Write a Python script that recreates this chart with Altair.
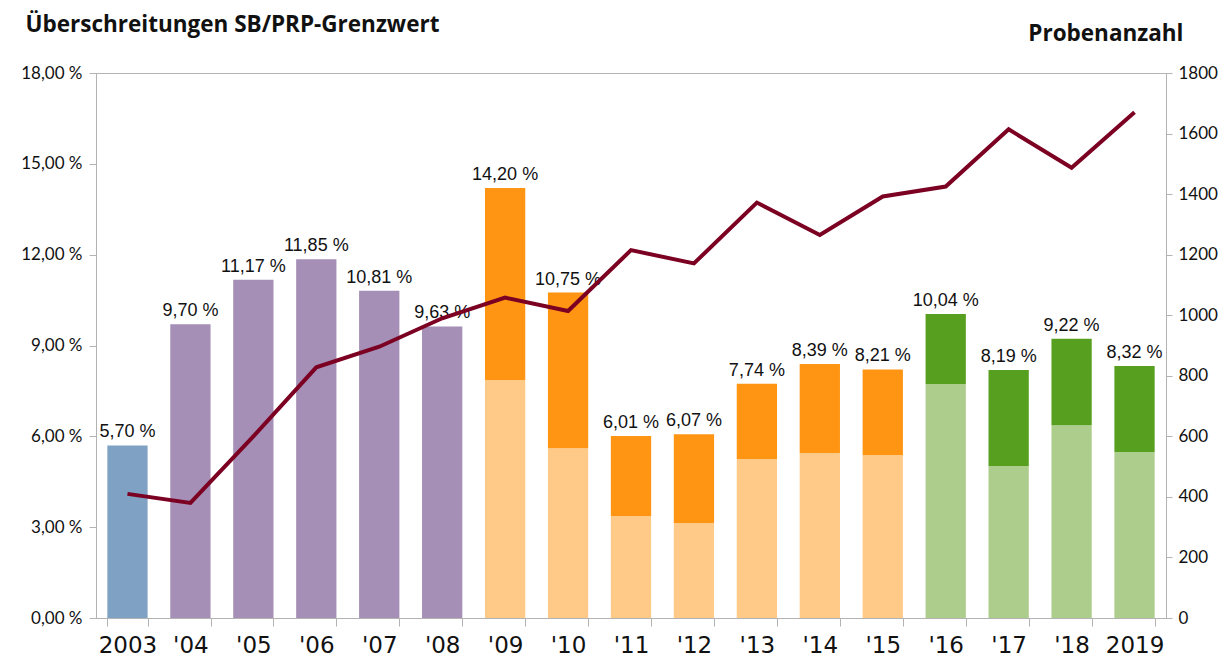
import altair as alt
import pandas as pd

years = ["2003", "'04", "'05", "'06", "'07", "'08", "'09", "'10", "'11", "'12",
         "'13", "'14", "'15", "'16", "'17", "'18", "2019"]
totals = [5.70, 9.70, 11.17, 11.85, 10.81, 9.63, 14.20, 10.75, 6.01, 6.07,
          7.74, 8.39, 8.21, 10.04, 8.19, 9.22, 8.32]
lower = [None, None, None, None, None, None, 7.86, 5.61, 3.37, 3.14,
         5.25, 5.45, 5.38, 7.73, 5.02, 6.37, 5.48]
groups = ["2003"] + ["2004-2008"] * 5 + ["2009-2015"] * 7 + ["2016-2019"] * 4
samples = [410, 380, 600, 828, 896, 990, 1058, 1014, 1215, 1171,
           1372, 1265, 1392, 1425, 1614, 1487, 1670]

seg_domain = ["2003", "2004-2008", "2009-2015 hell", "2009-2015 dunkel",
              "2016-2019 hell", "2016-2019 dunkel"]
seg_colors = ["#7fa2c4", "#a58fb6", "#ffc987", "#ff9512", "#adcd8c", "#579f1e"]

rows = []
for i, y in enumerate(years):
    lab = f"{totals[i]:.2f}".replace(".", ",") + " %"
    if lower[i] is None:
        rows.append(dict(year=y, start=0.0, end=totals[i], seg=groups[i], top=True, label=lab))
    else:
        rows.append(dict(year=y, start=0.0, end=lower[i], seg=groups[i] + " hell", top=False, label=lab))
        rows.append(dict(year=y, start=lower[i], end=totals[i], seg=groups[i] + " dunkel", top=True, label=lab))
bars_df = pd.DataFrame(rows)
line_df = pd.DataFrame({"year": years, "n": samples})

AX = "#b3b3b3"

x_enc = alt.X("year:N", sort=years,
              scale=alt.Scale(paddingInner=0.36, paddingOuter=0.18),
              axis=alt.Axis(title=None, labelAngle=0, tickBand="extent", tickSize=8,
                            labelPadding=8, labelFontSize=23, labelFont="DejaVu Sans",
                            labelColor="#111", domainColor=AX, tickColor=AX))

left_axis = alt.Axis(values=[0, 3, 6, 9, 12, 15, 18], grid=False,
                     labelExpr="replace(format(datum.value, '.2f'), '.', ',') + ' %'",
                     labelFontSize=17, labelFont="Lato", labelColor="#111",
                     tickSize=7, labelPadding=7, domainColor=AX, tickColor=AX,
                     title="Überschreitungen SB/PRP-Grenzwert", titleAngle=0,
                     titleAlign="left", titleBaseline="alphabetic", titleX=-71, titleY=-42,
                     titleFont="Open Sans", titleFontSize=22.5, titleFontWeight="bold",
                     titleColor="#111")
y_scale = alt.Scale(domain=[0, 18], nice=False)

bars = alt.Chart(bars_df).mark_bar().encode(
    x=x_enc,
    y=alt.Y("start:Q", scale=y_scale, axis=left_axis),
    y2="end:Q",
    color=alt.Color("seg:N", scale=alt.Scale(domain=seg_domain, range=seg_colors), legend=None),
)

labels = alt.Chart(bars_df).transform_filter("datum.top").mark_text(
    font="Liberation Sans", fontSize=18, baseline="alphabetic", dy=-8, color="#111"
).encode(
    x=alt.X("year:N", sort=years),
    y=alt.Y("end:Q", scale=y_scale, axis=left_axis),
    text="label:N",
)

line = alt.Chart(line_df).mark_line(color="#7b0022", strokeWidth=4).encode(
    x=alt.X("year:N", sort=years),
    y=alt.Y("n:Q", scale=alt.Scale(domain=[0, 1800], nice=False),
            axis=alt.Axis(orient="right", values=list(range(0, 1801, 200)), grid=False,
                          format="d",
                          labelFontSize=17, labelFont="Lato", labelColor="#111",
                          tickSize=6, labelPadding=6, domainColor=AX, tickColor=AX,
                          title="Probenanzahl", titleAngle=0, titleAlign="right",
                          titleBaseline="alphabetic", titleX=17, titleY=-33,
                          titleFont="Open Sans", titleFontSize=22.5, titleFontWeight="bold",
                          titleColor="#111")),
)

chart = alt.layer(alt.layer(bars, labels), line).resolve_scale(y="independent").properties(
    width=1070, height=545,
    autosize=alt.AutoSizeParams(type="none"),
    padding={"left": 88, "top": 65, "right": 58, "bottom": 42},
).configure_view(stroke=AX)

chart.save("out.html", embed_options={"renderer": "svg", "actions": False})
